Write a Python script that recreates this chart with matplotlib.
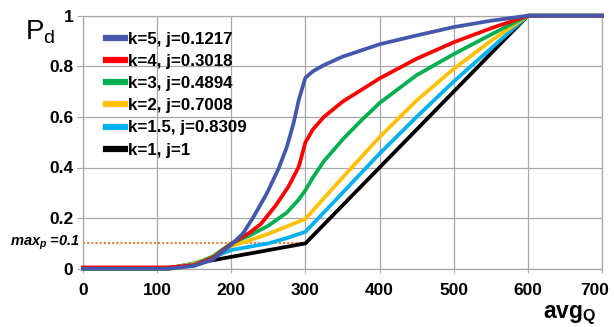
import matplotlib.pyplot as plt
from matplotlib.lines import Line2D
from matplotlib.transforms import ScaledTranslation

plt.rcParams['font.family'] = 'Liberation Sans'
plt.rcParams['mathtext.fontset'] = 'custom'
plt.rcParams['mathtext.rm'] = 'Liberation Sans'
plt.rcParams['mathtext.it'] = 'Liberation Sans:italic:bold'
plt.rcParams['mathtext.bf'] = 'Liberation Sans:bold'

# values (avg queue -> drop probability)
x_k5 = [0, 115, 150, 175, 200, 216, 230, 248, 264, 275, 284, 291, 300, 310, 325, 350, 400, 450, 500, 550, 600, 700]
p_k5 = [0, 0, 0.011, 0.036, 0.095, 0.14, 0.205, 0.298, 0.397, 0.482, 0.575, 0.667, 0.755, 0.78, 0.805, 0.838, 0.887, 0.922, 0.955, 0.98, 1, 1]

x_k4 = [0, 115, 150, 175, 200, 225, 240, 260, 277, 291, 300, 310, 325, 350, 400, 450, 500, 550, 600, 700]
p_k4 = [0.005, 0.005, 0.014, 0.042, 0.098, 0.143, 0.177, 0.25, 0.324, 0.403, 0.5, 0.55, 0.6, 0.66, 0.752, 0.83, 0.895, 0.95, 1, 1]

x_k3 = [0, 115, 150, 175, 200, 225, 250, 275, 290, 300, 310, 325, 350, 375, 400, 450, 500, 550, 600, 700]
p_k3 = [0, 0, 0.016, 0.048, 0.1, 0.132, 0.17, 0.222, 0.27, 0.31, 0.36, 0.425, 0.51, 0.585, 0.655, 0.765, 0.848, 0.925, 1, 1]

x_k2 = [0, 115, 150, 175, 200, 225, 250, 275, 300, 350, 400, 450, 500, 550, 600, 700]
p_k2 = [0, 0, 0.02, 0.048, 0.09, 0.112, 0.138, 0.167, 0.197, 0.36, 0.52, 0.665, 0.79, 0.9, 1, 1]

x_k15 = [0, 115, 150, 175, 200, 225, 250, 275, 300, 350, 400, 450, 500, 550, 600, 700]
p_k15 = [0, 0, 0.022, 0.045, 0.074, 0.087, 0.1, 0.121, 0.146, 0.3, 0.455, 0.6, 0.74, 0.87, 1, 1]

x_k1 = [0, 112, 300, 600, 700]
p_k1 = [0, 0, 0.1, 1, 1]

labels = ['k=5, j=0.1217', 'k=4, j=0.3018', 'k=3, j=0.4894',
          'k=2, j=0.7008', 'k=1.5, j=0.8309', 'k=1, j=1']
colors = ['#4357AD', '#FF0000', '#00B050', '#FFC000', '#00B0F0', '#000000']

max_p = 0.1
max_p_end = 300

series = [(x_k5, p_k5), (x_k4, p_k4), (x_k3, p_k3),
          (x_k2, p_k2), (x_k15, p_k15), (x_k1, p_k1)]

fig = plt.figure(figsize=(6.14, 3.27), dpi=100)
ax = fig.add_axes([83 / 614, 1 - 268.7 / 327, 519 / 614, 253 / 327])

ax.plot([0, max_p_end], [max_p, max_p], color='#ED7D31', lw=1.5,
        linestyle=(0, (1, 1)), zorder=2)

# draw from the last legend entry to the first so k=5 ends up on top
for (xs, ps), c in reversed(list(zip(series, colors))):
    ax.plot(xs, ps, color=c, lw=2.7, clip_on=False, zorder=3,
            solid_joinstyle='round')

ax.set_xlim(0, 700)
ax.set_ylim(0, 1)
ax.set_xticks(range(0, 701, 100))
ax.set_xticklabels([str(v) for v in range(0, 701, 100)], fontsize=12.5, fontweight='bold')
ax.set_yticks([0, 0.2, 0.4, 0.6, 0.8, 1])
ax.set_yticklabels(['0', '0.2', '0.4', '0.6', '0.8', '1'], fontsize=12.5, fontweight='bold')
ax.tick_params(axis='y', length=4, color='#A8A8A8', pad=3)
ax.tick_params(axis='x', length=3, color='#A8A8A8', pad=7)
ax.grid(color='#A8A8A8', lw=0.9)
ax.set_axisbelow(True)
for s in ax.spines.values():
    s.set_color('#A8A8A8')
    s.set_linewidth(0.9)

# last x label sits a little to the left so it fits inside the figure
last = ax.get_xticklabels()[-1]
last.set_transform(last.get_transform() + ScaledTranslation(-5 / 72, 0, fig.dpi_scale_trans))

handles = [Line2D([], [], color=c, lw=4.5) for c in colors]
fig.legend(handles, labels, loc='upper left',
           bbox_to_anchor=(106 / 614, 1 - 32 / 327),
           frameon=False, prop={'size': 12.2, 'weight': 'bold'},
           handlelength=1.1, handletextpad=0.2, labelspacing=0.42,
           borderpad=0, borderaxespad=0)

fig.text(25 / 614, 1 - 40 / 327, r'P$_\mathrm{d}$', fontsize=20, va='baseline')
fig.text(543 / 614, 1 - 318 / 327, r'avg$_\mathbf{Q}$', fontsize=16.5,
         fontweight='bold', va='baseline')
fig.text(10 / 614, 1 - 243.3 / 327, r'$max_p$ =0.1', fontsize=10.5,
         fontstyle='italic', fontweight='bold', va='center')

plt.savefig('out.png', dpi=100)
